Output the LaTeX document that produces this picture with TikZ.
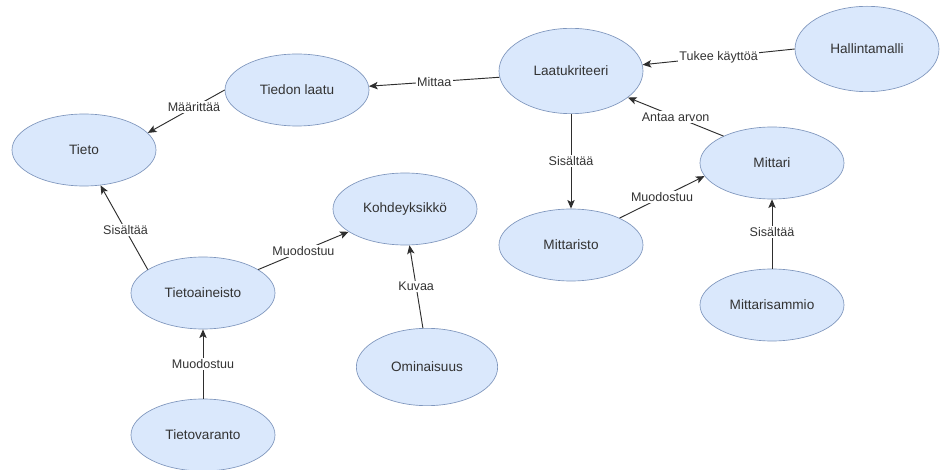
\documentclass[tikz,border=0pt]{standalone}
\usepackage{fontspec}
\setmainfont{Liberation Sans}
\usetikzlibrary{shapes.geometric,arrows.meta}
\definecolor{nodefill}{HTML}{DAE8FC}
\definecolor{nodedraw}{HTML}{7F96BD}
\definecolor{txt}{HTML}{333333}
\tikzset{
  ent/.style={ellipse, draw=nodedraw, fill=nodefill, line width=0.5pt,
    minimum width=108pt, minimum height=54pt, inner sep=0pt,
    text=txt, font=\fontsize{10.2pt}{12pt}\selectfont},
  tall/.style={minimum height=64pt},
  rel/.style={draw=txt!90!black, line width=0.7pt, -{Stealth[length=6.5pt,width=5.5pt,inset=1.5pt]}},
  lbl/.style={fill=white, inner sep=1pt, text=txt, font=\fontsize{9.4pt}{11pt}\selectfont, pos=0.5}
}
\begin{document}
\begin{tikzpicture}[x=0.75pt,y=-0.75pt]
\useasboundingbox[fill=white] (0,0) rectangle (943,470);
\node[ent] (tl) at (297,90) {Tiedon laatu};
\node[ent] (tieto) at (84,150) {Tieto};
\node[ent] (kohde) at (405,209) {Kohdeyksikkö};
\node[ent,tall] (laatu) at (571,71) {Laatukriteeri};
\node[ent,tall] (hall) at (867,49) {Hallintamalli};
\node[ent] (mittari) at (772,163) {Mittari};
\node[ent] (mittaristo) at (571,245) {Mittaristo};
\node[ent] (sammio) at (772,305) {Mittarisammio};
\node[ent] (aineisto) at (203,293) {Tietoaineisto};
\node[ent,minimum height=58pt,minimum width=106pt] (omin) at (427,367) {Ominaisuus};
\node[ent] (varanto) at (203,435) {Tietovaranto};

\draw[rel] (tl.180) -- node[lbl,pos=0.4] {Määrittää} (tieto.15);
\draw[rel] (laatu.185) -- node[lbl] {Mittaa} (tl.3);
\draw[rel] (hall.180) -- node[lbl] {Tukee käyttöä} (laatu.5);
\draw[rel] (mittari.151) -- node[lbl] {Antaa arvon} (laatu.335);
\draw[rel] (laatu.south) -- node[lbl] {Sisältää} (mittaristo.north);
\draw[rel] (mittaristo.29) -- node[lbl] {Muodostuu} (mittari.191);
\draw[rel] (sammio.north) -- node[lbl,pos=0.53] {Sisältää} (mittari.south);
\draw[rel] (aineisto.157) -- node[lbl,pos=0.47] {Sisältää} (tieto.295);
\draw[rel] (aineisto.23) -- node[lbl] {Muodostuu} (kohde.202);
\draw[rel] (omin.96) -- node[lbl] {Kuvaa} (kohde.277);
\draw[rel] (varanto.north) -- node[lbl] {Muodostuu} (aineisto.south);
\end{tikzpicture}
\end{document}
